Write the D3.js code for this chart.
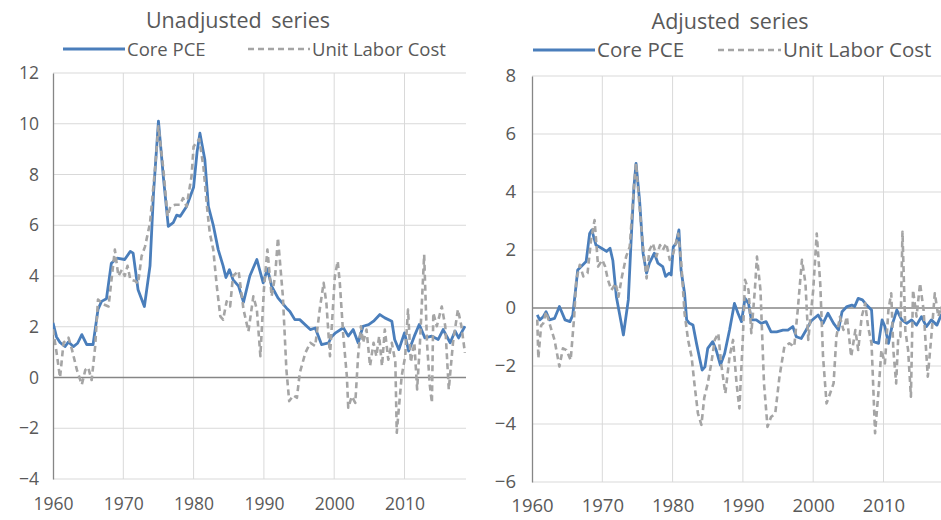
<!DOCTYPE html>
<html>
<head>
<meta charset="utf-8">
<script src="https://cdn.jsdelivr.net/npm/d3@7"></script>
<style>
  html, body { margin: 0; padding: 0; background: #fff; }
  svg { display: block; font-family: "Open Sans", "Noto Sans", sans-serif; }
</style>
</head>
<body>
<svg id="chart" width="941" height="520"></svg>
<script>
// Decade ticks shared by both panels
const yearTicks = [1960, 1970, 1980, 1990, 2000, 2010];
const unadjTicks = [-4, -2, 0, 2, 4, 6, 8, 10, 12];
const adjTicks = [-6, -4, -2, 0, 2, 4, 6, 8];
const seriesNames = ["Core PCE", "Unit Labor Cost"];
const panelTitles = ["Unadjusted series", "Adjusted series"];

// Core PCE inflation, unadjusted (year, percent)
const coreUnadj = [
  [1960.0,2.15],[1960.5,1.6],[1961.0,1.38],[1961.7,1.22],[1962.2,1.4],[1962.9,1.22],[1963.5,1.35],
  [1964.1,1.69],[1964.8,1.3],[1965.7,1.3],[1966.4,2.68],[1966.9,3.0],[1967.6,3.1],[1968.3,4.5],
  [1969.1,4.7],[1970.2,4.65],[1971.0,4.97],[1971.4,4.9],[1972.1,3.46],[1973.0,2.8],[1973.8,4.4],
  [1974.3,7.27],[1975.0,10.1],[1975.7,7.9],[1976.4,5.96],[1977.1,6.1],[1977.6,6.4],[1978.1,6.35],
  [1979.0,6.74],[1980.0,7.5],[1980.5,8.9],[1980.9,9.63],[1981.6,8.58],[1982.1,6.74],[1982.8,6.0],
  [1983.5,5.04],[1984.2,4.4],[1984.6,3.94],[1985.1,4.25],[1985.6,3.86],[1986.4,3.6],[1987.1,2.97],
  [1988.0,4.0],[1989.0,4.65],[1989.9,3.73],[1990.5,4.28],[1991.1,3.6],[1992.0,3.14],[1993.2,2.74],
  [1993.7,2.6],[1994.4,2.28],[1995.1,2.28],[1996.6,1.89],[1997.3,1.95],[1998.2,1.3],[1999.2,1.36],
  [1999.6,1.6],[2000.2,1.76],[2001.3,1.96],[2002.0,1.63],[2002.7,1.89],[2003.4,1.37],[2004.1,2.02],
  [2004.9,2.08],[2005.6,2.22],[2006.5,2.48],[2007.2,2.35],[2008.2,2.22],[2008.6,1.5],[2009.2,1.1],
  [2010.0,1.76],[2010.6,1.04],[2011.4,1.63],[2012.1,2.09],[2012.9,1.56],[2013.9,1.63],[2014.8,1.5],
  [2015.5,1.89],[2016.5,1.37],[2017.2,1.83],[2017.7,1.56],[2018.6,2.02]
];

// Unit labor cost growth, unadjusted
const ulcUnadj = [
  [1960.0,1.9],[1960.5,1.0],[1961.0,0.0],[1961.5,1.37],[1962.2,1.57],[1962.7,1.1],[1963.4,0.3],
  [1964.1,-0.28],[1964.6,0.3],[1965.0,0.4],[1965.5,-0.1],[1966.0,1.23],[1966.4,3.07],[1967.2,2.88],
  [1967.9,2.8],[1968.8,5.04],[1969.3,4.0],[1969.8,4.25],[1970.2,4.0],[1970.6,4.4],[1971.0,3.86],
  [1971.7,3.8],[1972.1,3.7],[1972.6,4.78],[1973.1,5.17],[1973.8,6.09],[1974.5,8.19],[1975.0,9.9],
  [1975.7,8.2],[1976.3,6.35],[1976.7,6.74],[1977.4,6.81],[1978.1,6.81],[1978.5,7.07],[1979.0,6.74],
  [1979.7,7.92],[1980.0,9.1],[1980.8,9.4],[1981.4,8.3],[1981.9,6.74],[1982.3,5.7],[1982.8,5.04],
  [1983.3,3.6],[1983.8,2.41],[1984.2,2.28],[1984.7,3.0],[1985.2,2.8],[1985.6,4.0],[1986.4,4.2],
  [1987.1,2.68],[1987.8,1.82],[1988.5,3.2],[1989.0,2.68],[1989.5,0.84],[1990.0,3.46],[1990.5,5.04],
  [1991.1,3.2],[1991.6,4.0],[1992.0,5.5],[1992.7,3.2],[1993.2,0.31],[1993.6,-0.93],[1994.2,-0.7],
  [1994.7,-0.8],[1995.1,0.18],[1995.9,0.97],[1996.6,1.37],[1997.3,1.24],[1998.0,2.8],[1998.5,3.73],
  [1998.9,2.9],[1999.4,0.84],[2000.1,4.0],[2000.5,4.58],[2000.8,3.73],[2001.3,1.63],[2001.8,0.05],
  [2002.0,-1.19],[2002.5,-0.74],[2003.0,-1.0],[2003.4,0.84],[2003.8,2.02],[2004.1,1.37],[2004.6,1.89],
  [2005.1,0.45],[2005.6,1.37],[2006.0,0.84],[2006.4,1.63],[2006.8,0.45],[2007.2,1.89],[2007.7,0.7],
  [2008.2,1.37],[2008.7,0.6],[2008.9,-2.18],[2009.2,-1.2],[2009.6,0.05],[2010.1,0.84],[2010.5,2.68],
  [2010.9,0.6],[2011.4,1.37],[2011.8,-0.47],[2012.2,1.37],[2012.8,4.84],[2013.2,1.37],[2013.6,-0.3],
  [2013.9,-1.0],[2014.1,2.55],[2014.6,2.02],[2015.3,2.8],[2015.8,2.02],[2016.3,-0.47],[2016.9,1.37],
  [2017.6,2.68],[2018.1,2.02],[2018.6,0.97]
];

// Core PCE inflation, adjusted
const coreAdj = [
  [1960.75,-0.24],[1961.1,-0.41],[1961.6,-0.3],[1962.0,-0.13],[1962.5,-0.41],[1963.2,-0.36],
  [1963.9,0.05],[1964.7,-0.41],[1965.4,-0.47],[1965.8,-0.24],[1966.3,0.85],[1966.5,1.31],[1967.0,1.43],
  [1967.7,1.6],[1968.2,2.57],[1968.5,2.69],[1969.1,2.17],[1969.9,2.06],[1970.6,1.95],[1971.1,2.06],
  [1971.5,1.64],[1972.0,0.39],[1972.7,-0.53],[1973.0,-0.93],[1973.7,0.28],[1974.1,2.34],[1974.5,4.18],
  [1974.8,4.99],[1975.3,3.72],[1975.8,1.89],[1976.3,1.2],[1976.7,1.55],[1977.4,1.89],[1977.9,1.55],
  [1978.6,1.43],[1979.0,1.09],[1979.5,1.2],[1979.8,1.14],[1980.1,2.11],[1980.5,2.23],[1980.9,2.69],
  [1981.2,1.31],[1981.7,0.51],[1982.0,-0.41],[1982.4,-0.53],[1982.9,-0.59],[1983.4,-1.22],[1983.9,-1.8],
  [1984.2,-2.14],[1984.6,-2.03],[1985.0,-1.39],[1985.7,-1.16],[1986.2,-1.45],[1986.8,-1.97],[1987.4,-1.57],
  [1988.1,-0.76],[1988.8,0.16],[1989.3,-0.18],[1989.8,-0.47],[1990.3,0.33],[1990.8,0.16],[1991.2,-0.41],
  [1991.9,-0.41],[1992.6,-0.53],[1993.3,-0.47],[1994.0,-0.82],[1994.8,-0.82],[1995.7,-0.76],[1996.4,-0.76],
  [1997.1,-0.64],[1997.6,-0.99],[1998.3,-1.05],[1999.0,-0.76],[1999.7,-0.45],[2000.7,-0.24],[2001.4,-0.53],
  [2002.1,-0.18],[2002.9,-0.53],[2003.6,-0.76],[2004.1,-0.13],[2004.8,0.05],[2005.5,0.1],[2005.9,0.05],
  [2006.4,0.33],[2007.0,0.28],[2007.6,0.1],[2008.3,-0.07],[2008.6,-1.16],[2009.3,-1.22],[2009.8,-0.41],
  [2010.2,-0.64],[2010.7,-1.22],[2011.3,-0.53],[2011.9,-0.07],[2012.6,-0.41],[2013.3,-0.53],[2014.0,-0.41],
  [2014.7,-0.59],[2015.4,-0.3],[2016.1,-0.64],[2016.8,-0.41],[2017.6,-0.59],[2018.2,-0.24],[2018.7,-0.5]
];

// Unit labor cost growth, adjusted
const ulcAdj = [
  [1960.75,-0.4],[1960.9,-1.74],[1961.3,-0.6],[1961.6,-0.53],[1962.0,-0.13],[1962.7,-0.7],[1963.2,-1.1],
  [1963.9,-2.02],[1964.4,-1.39],[1964.9,-1.45],[1965.5,-1.8],[1966.0,-0.3],[1966.3,0.97],[1966.8,1.49],
  [1967.3,1.09],[1967.9,1.2],[1968.4,2.34],[1968.9,3.03],[1969.4,1.43],[1970.0,1.66],[1970.4,1.43],
  [1970.8,0.97],[1971.3,0.62],[1971.9,0.85],[1972.3,0.39],[1972.8,1.09],[1973.4,1.78],[1973.9,2.11],
  [1974.5,4.18],[1974.8,5.0],[1975.3,3.49],[1975.8,2.11],[1976.3,1.02],[1976.7,2.0],[1977.2,2.23],
  [1977.7,1.78],[1978.2,2.17],[1978.6,2.0],[1979.1,2.23],[1979.6,1.66],[1980.1,1.89],[1980.8,2.57],
  [1981.2,1.66],[1981.7,-0.18],[1982.2,-1.1],[1982.7,-1.68],[1983.1,-2.6],[1983.6,-3.63],[1984.1,-4.03],
  [1984.5,-3.1],[1985.0,-2.6],[1985.5,-1.91],[1986.0,-1.1],[1986.5,-0.87],[1986.9,-1.91],[1987.5,-2.95],
  [1988.1,-1.68],[1988.6,-1.1],[1989.1,-2.6],[1989.5,-3.46],[1990.0,-0.99],[1990.3,0.97],[1990.8,0.62],
  [1991.2,-0.87],[1991.7,0.62],[1992.0,1.77],[1992.5,0.62],[1993.0,-2.6],[1993.5,-4.1],[1994.0,-3.76],
  [1994.6,-3.64],[1995.2,-2.37],[1995.9,-1.33],[1996.6,-1.22],[1997.3,-1.33],[1997.8,-0.07],[1998.4,1.66],
  [1998.9,0.85],[1999.3,-1.1],[2000.0,0.62],[2000.5,2.57],[2001.0,0.85],[2001.4,-1.68],[2001.9,-3.29],
  [2002.4,-2.95],[2002.9,-2.6],[2003.3,-0.99],[2003.8,-0.3],[2004.3,-0.76],[2004.8,-0.3],[2005.4,-1.68],
  [2006.0,-0.76],[2006.4,-1.45],[2006.9,-0.3],[2007.4,0.16],[2007.8,-0.64],[2008.3,-1.22],[2008.8,-4.32],
  [2009.3,-2.83],[2009.7,-1.45],[2010.2,-1.91],[2010.7,-0.07],[2011.1,0.51],[2011.4,-1.45],[2011.8,-2.6],
  [2012.1,-0.99],[2012.4,-0.99],[2012.7,2.63],[2013.1,-0.76],[2013.5,-1.45],[2013.9,-3.06],[2014.2,0.62],
  [2014.7,-0.3],[2015.2,0.85],[2015.7,-0.07],[2016.3,-2.37],[2016.8,-0.99],[2017.3,0.51],[2017.8,-0.3],
  [2018.2,0.05],[2018.7,-0.6]
];

const svg = d3.select("#chart");
const textColor = "#595959";
const blue = "#4a7ebb";
const gray = "#a5a5a5";

function drawPanel(cfg) {
  const x = d3.scaleLinear().domain([1960, 2018.75]).range([cfg.left, cfg.right]);
  const y = d3.scaleLinear().domain(cfg.yDomain).range([cfg.bottom, cfg.top]);
  const g = svg.append("g");

  const clipId = "clip-" + cfg.id;
  svg.append("defs").append("clipPath").attr("id", clipId)
    .append("rect").attr("x", cfg.left).attr("y", cfg.top - 5)
    .attr("width", cfg.right - cfg.left).attr("height", cfg.bottom - cfg.top + 10);

  // horizontal gridlines
  g.append("g").selectAll("line").data(cfg.yTicks.filter(d => d !== 0)).join("line")
    .attr("x1", cfg.left).attr("x2", cfg.right)
    .attr("y1", d => y(d)).attr("y2", d => y(d))
    .attr("stroke", "#d9d9d9").attr("stroke-width", 1);
  // vertical gridlines
  g.append("g").selectAll("line").data(yearTicks.slice(1)).join("line")
    .attr("x1", d => x(d)).attr("x2", d => x(d))
    .attr("y1", cfg.top).attr("y2", cfg.bottom)
    .attr("stroke", "#d9d9d9").attr("stroke-width", 1);

  // y axis with labels
  const yAxis = d3.axisLeft(y).tickValues(cfg.yTicks).tickSize(0).tickPadding(cfg.yPad);
  const ya = g.append("g").attr("transform", `translate(${cfg.left},0)`).call(yAxis);
  ya.select(".domain").attr("stroke", "#868686").attr("stroke-width", 1.3);
  ya.selectAll("text").attr("fill", textColor).style("font-size", cfg.tickFont + "px")
    .style("font-family", "'Open Sans', sans-serif");

  // x axis labels
  const xAxis = d3.axisBottom(x).tickValues(yearTicks).tickFormat(d3.format("d")).tickSize(0).tickPadding(0);
  const xa = g.append("g").attr("transform", `translate(0,${cfg.xLabelY})`).call(xAxis);
  xa.select(".domain").remove();
  xa.selectAll("text").attr("fill", textColor).style("font-size", cfg.tickFont + "px")
    .style("font-family", "'Open Sans', sans-serif").attr("dy", "0.71em");

  // zero line
  g.append("line").attr("x1", cfg.left).attr("x2", cfg.right)
    .attr("y1", y(0)).attr("y2", y(0)).attr("stroke", "#868686").attr("stroke-width", 1.3);

  const line = d3.line().x(d => x(d[0])).y(d => y(d[1]));
  const lines = g.append("g").attr("clip-path", `url(#${clipId})`);
  lines.append("path").datum(cfg.core).attr("d", line)
    .attr("fill", "none").attr("stroke", blue).attr("stroke-width", 2.8)
    .attr("stroke-linejoin", "round");
  lines.append("path").datum(cfg.ulc).attr("d", line)
    .attr("fill", "none").attr("stroke", gray).attr("stroke-width", 2.6)
    .attr("stroke-dasharray", "6,4").attr("stroke-linejoin", "round");

  // title
  g.append("text").attr("x", cfg.titleX).attr("y", cfg.titleY).attr("text-anchor", "middle")
    .attr("fill", textColor).style("font-size", cfg.titleFont + "px").style("word-spacing", "4px")
    .text(cfg.title);

  // legend
  const lg = g.append("g");
  lg.append("line").attr("x1", cfg.leg[0]).attr("x2", cfg.leg[1]).attr("y1", cfg.legY).attr("y2", cfg.legY)
    .attr("stroke", blue).attr("stroke-width", 2.8);
  lg.append("text").attr("x", cfg.leg[1] + 2).attr("y", cfg.legY + cfg.legFont * 0.36)
    .attr("fill", textColor).style("font-size", cfg.legFont + "px").text(seriesNames[0]);
  lg.append("line").attr("x1", cfg.leg[2]).attr("x2", cfg.leg[3]).attr("y1", cfg.legY).attr("y2", cfg.legY)
    .attr("stroke", gray).attr("stroke-width", 2.6).attr("stroke-dasharray", "6,4");
  lg.append("text").attr("x", cfg.leg[3] + 2).attr("y", cfg.legY + cfg.legFont * 0.36)
    .attr("fill", textColor).style("font-size", cfg.legFont + "px").text(seriesNames[1]);
}

drawPanel({
  id: "unadj", title: panelTitles[0], left: 53, right: 466, top: 73, bottom: 479,
  yDomain: [-4, 12], yTicks: unadjTicks, core: coreUnadj, ulc: ulcUnadj,
  yPad: 14, tickFont: 17.5, xLabelY: 498, titleX: 238, titleY: 28, titleFont: 21.5,
  leg: [63, 125, 248, 310], legY: 49, legFont: 18.5
});

drawPanel({
  id: "adj", title: panelTitles[1], left: 532, right: 532 + 58.75 * 7.03, top: 76, bottom: 482,
  yDomain: [-6, 8], yTicks: adjTicks, core: coreAdj, ulc: ulcAdj,
  yPad: 16, tickFont: 18.5, xLabelY: 499, titleX: 730, titleY: 29, titleFont: 21.5,
  leg: [533, 595, 718, 781], legY: 50, legFont: 20.5
});
</script>
</body>
</html>
